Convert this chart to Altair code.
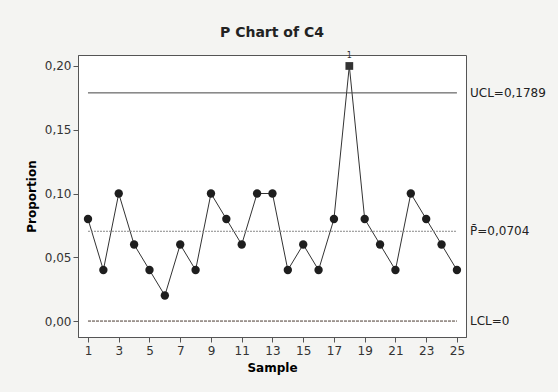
import altair as alt
import pandas as pd

# Sample proportions (defectives) for C4
samples = list(range(1, 26))
proportions = [0.08, 0.04, 0.10, 0.06, 0.04, 0.02, 0.06, 0.04, 0.10, 0.08,
               0.06, 0.10, 0.10, 0.04, 0.06, 0.04, 0.08, 0.20, 0.08, 0.06,
               0.04, 0.10, 0.08, 0.06, 0.04]
flags = ["" if s != 18 else "1" for s in samples]

limit_names = ["UCL", "P", "LCL"]
limit_values = [0.1789, 0.0704, 0.0]
limit_labels = ["UCL=0,1789", "P\u0304=0,0704", "LCL=0"]

df = pd.DataFrame({"Sample": samples, "Proportion": proportions, "flag": flags})
df["out"] = df["flag"] != ""
limits = pd.DataFrame({"name": limit_names, "value": limit_values, "label": limit_labels,
                       "x1": [1] * 3, "x2": [25] * 3})

FONT = "DejaVu Sans"
xs = alt.Scale(domain=[0.35, 25.59], nice=False, zero=False)
ys = alt.Scale(domain=[-0.0125, 0.2086], nice=False, zero=False)

x_axis = alt.Axis(values=list(range(1, 26, 2)), grid=False, tickSize=5, labelFontSize=12,
                  labelPadding=3, labelOverlap=False, title="Sample", titleFontSize=12,
                  titleFontWeight="bold", titlePadding=6, domainColor="#555", tickColor="#555",
                  labelColor="#333", labelFont=FONT, titleFont=FONT, labelFlush=False)
y_axis = alt.Axis(values=[0, 0.05, 0.10, 0.15, 0.20], grid=False, tickSize=5, labelFontSize=12,
                  labelExpr="replace(format(datum.value, '.2f'), '.', ',')", labelOverlap=False,
                  title="Proportion", titleFontSize=12, titleFontWeight="bold",
                  titlePadding=6, domainColor="#555", tickColor="#555", labelColor="#333",
                  labelFont=FONT, titleFont=FONT)

X = lambda f: alt.X(f, scale=xs, axis=x_axis)
Y = lambda f: alt.Y(f, scale=ys, axis=y_axis)

base = alt.Chart(df)

line = base.mark_line(color="#333", strokeWidth=1).encode(
    x=X("Sample:Q"), y=Y("Proportion:Q")
)
dots = base.transform_filter("!datum.out").mark_circle(size=70, color="#1e1e1e", opacity=1).encode(
    x=X("Sample:Q"), y=Y("Proportion:Q")
)
square = base.transform_filter("datum.out").mark_square(size=60, color="#333", opacity=1).encode(
    x=X("Sample:Q"), y=Y("Proportion:Q")
)
flag_text = base.transform_filter("datum.out").mark_text(dy=-10, fontSize=8, font=FONT, color="#333").encode(
    x=X("Sample:Q"), y=Y("Proportion:Q"), text="flag:N"
)

lim = alt.Chart(limits)
ucl = lim.transform_filter("datum.name == 'UCL'").mark_rule(color="#444", strokeWidth=1).encode(
    x=X("x1:Q"), x2="x2:Q", y=Y("value:Q")
)
center = lim.transform_filter("datum.name == 'P'").mark_rule(color="#888", strokeWidth=1, strokeDash=[2, 1]).encode(
    x=X("x1:Q"), x2="x2:Q", y=Y("value:Q")
)
lcl = lim.transform_filter("datum.name == 'LCL'").mark_rule(color="#4a3a30", strokeWidth=1, strokeDash=[3, 1]).encode(
    x=X("x1:Q"), x2="x2:Q", y=Y("value:Q")
)
lim_text = lim.mark_text(align="left", baseline="middle", fontSize=12, font=FONT, color="#222").encode(
    x=alt.value(392), y=Y("value:Q"), text="label:N"
)

chart = alt.layer(line, center, lcl, ucl, dots, square, flag_text, lim_text).properties(
    width=388, height=282,
    title=alt.TitleParams("P Chart of C4", fontSize=14, fontWeight="bold", font=FONT,
                          anchor="middle", offset=12, color="#222"),
    autosize=alt.AutoSizeParams(type="none"),
    padding={"left": 78, "top": 55, "right": 92, "bottom": 55},
    background="#f4f4f2",
).configure_view(stroke="#555", strokeWidth=1, fill="white").configure_axis(labelOverlap=False)

chart.save("out.html", embed_options={"renderer": "svg", "actions": False})
